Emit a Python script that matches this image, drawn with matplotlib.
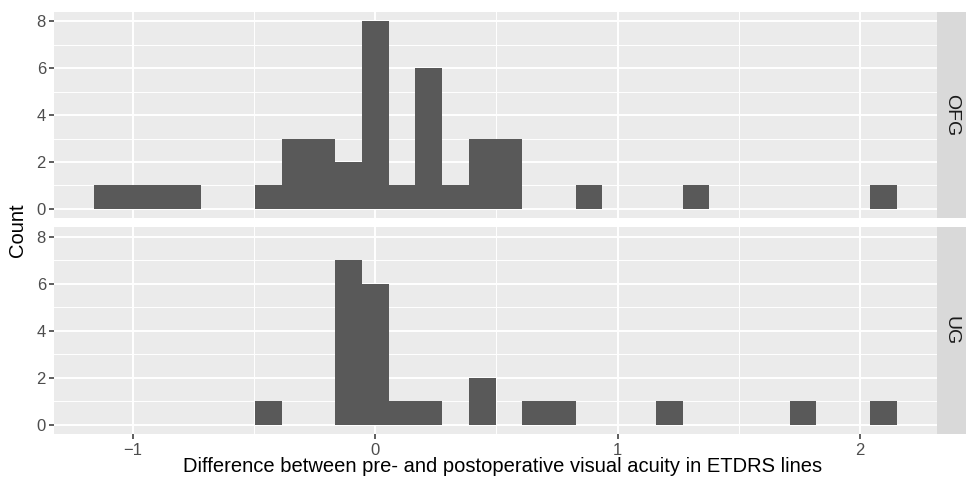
import numpy as np
import matplotlib
matplotlib.use("Agg")
from matplotlib import pyplot as plt

plt.rcParams['font.family'] = ['Liberation Sans', 'DejaVu Sans']

# histogram bins are centred on multiples of the bin width (30 bins over the data range)
bin_width = 3.2 / 29
bin_index = np.arange(-10, 20)

groups = ["OFG", "UG"]
# counts per bin, bin index -10 .. 19
counts_ofg = [1, 1, 1, 1, 0, 0, 1, 3, 3, 2, 8, 1, 6, 1, 3, 3, 0, 0, 1, 0,
              0, 0, 1, 0, 0, 0, 0, 0, 0, 1]
counts_ug = [0, 0, 0, 0, 0, 0, 1, 0, 0, 7, 6, 1, 1, 0, 2, 0, 1, 1, 0, 0,
             0, 1, 0, 0, 0, 0, 1, 0, 0, 1]
all_counts = [counts_ofg, counts_ug]

x_ticks = [-1, 0, 1, 2]
y_ticks = [0, 2, 4, 6, 8]

panel_bg = "#EBEBEB"
bar_color = "#595959"
strip_bg = "#D9D9D9"
text_grey = "#4D4D4D"

fig = plt.figure(figsize=(9.7, 4.8), dpi=100)

centers = bin_index * bin_width
lo = centers[0] - bin_width / 2
hi = centers[-1] + bin_width / 2
pad = (hi - lo) * 0.05
xlim = (lo - pad, hi + pad)
ylim = (-0.4, 8.4)

panel_boxes = [(0.056, 0.5452, 0.9097, 0.4298), (0.056, 0.0952, 0.9097, 0.4313)]

for i, (name, counts) in enumerate(zip(groups, all_counts)):
    ax = fig.add_axes(panel_boxes[i])
    ax.set_facecolor(panel_bg)
    for s in ax.spines.values():
        s.set_visible(False)
    ax.set_xlim(*xlim)
    ax.set_ylim(*ylim)
    # minor and major white grid
    for v in [-0.5, 0.5, 1.5]:
        ax.axvline(v, color="white", lw=0.7, zorder=0.5)
    for v in [1, 3, 5, 7]:
        ax.axhline(v, color="white", lw=0.7, zorder=0.5)
    for v in x_ticks:
        ax.axvline(v, color="white", lw=1.4, zorder=0.6)
    for v in y_ticks:
        ax.axhline(v, color="white", lw=1.4, zorder=0.6)
    ax.bar(centers, counts, width=bin_width, color=bar_color, zorder=2)
    ax.set_yticks(y_ticks)
    ax.set_xticks(x_ticks)
    ax.tick_params(axis="both", length=3.5, width=1.1, color="#333333",
                   labelcolor=text_grey, labelsize=12, pad=2.5)
    if i == 0:
        ax.tick_params(axis="x", bottom=False, labelbottom=False)
    else:
        ax.set_xticklabels(["\u22121", "0", "1", "2"])

    # facet strip on the right
    x0, y0, w, h = panel_boxes[i]
    sax = fig.add_axes((x0 + w, y0, 0.0302, h))
    sax.set_facecolor(strip_bg)
    sax.set_xticks([])
    sax.set_yticks([])
    for s in sax.spines.values():
        s.set_visible(False)
    sax.text(0.5, 0.5, name, rotation=-90, ha="center", va="center",
             fontsize=14, color="#1A1A1A", transform=sax.transAxes)

fig.text(0.518, 0.028, "Difference between pre- and postoperative visual acuity in ETDRS lines",
         ha="center", va="center", fontsize=14.5, color="black")
fig.text(0.018, 0.52, "Count", rotation=90, ha="center", va="center",
         fontsize=14.5, color="black")

fig.savefig("out.png", dpi=100)
